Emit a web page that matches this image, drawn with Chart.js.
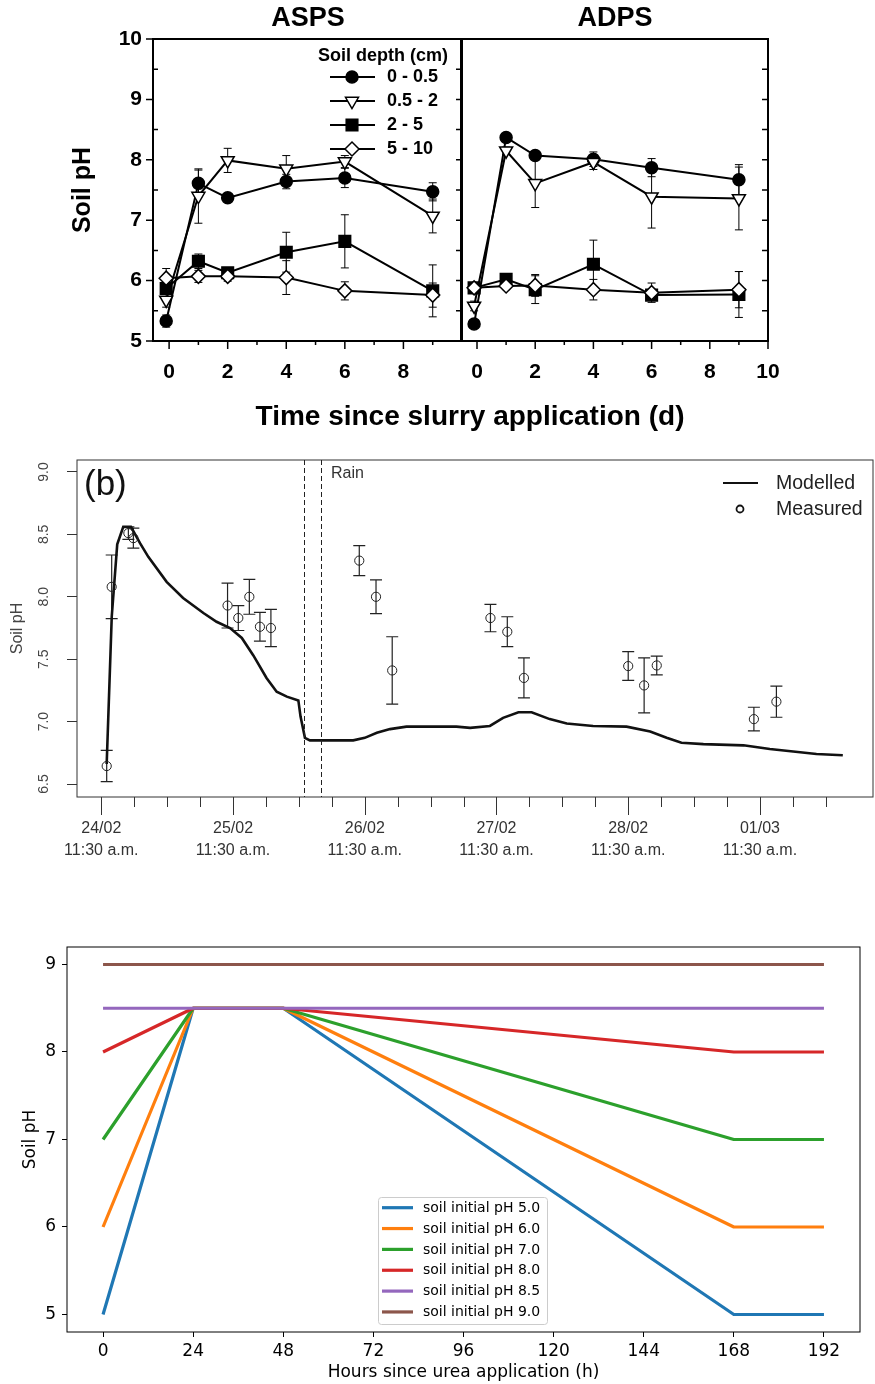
<!DOCTYPE html>
<html><head><meta charset="utf-8">
<script src="https://cdn.jsdelivr.net/npm/chart.js@4.4.1/dist/chart.umd.min.js"></script>
<style>
html,body{margin:0;padding:0;background:#fff;}
#wrap{position:relative;width:875px;height:1384px;overflow:hidden;background:#fff;}
canvas{position:absolute;}
</style>
</head><body><div id="wrap">
<canvas id="cA" width="875" height="440" style="left:0;top:0;width:875px;height:440px"></canvas>
<canvas id="cB" width="420" height="440" style="left:455px;top:0;width:420px;height:440px"></canvas>
<canvas id="cC" width="875" height="450" style="left:0;top:440px;width:875px;height:450px"></canvas>
<canvas id="cD" width="875" height="494" style="left:0;top:890px;width:875px;height:494px"></canvas>
</div>
<script>
// ---------------- DATA ----------------
// Panel (a): days since slurry application
const daysTop = [-0.1, 1, 2, 4, 6, 9];
const depthLabels = ['0 - 0.5', '0.5 - 2', '2 - 5', '5 - 10'];
const asps1 = [5.33, 7.61, 7.37, 7.64, 7.70, 7.47];
const asps1Err = [0.10, 0.22, 0.05, 0.12, 0.16, 0.15];
const asps2 = [5.68, 7.40, 7.99, 7.85, 7.97, 7.07];
const asps2Err = [0.12, 0.45, 0.20, 0.22, 0.10, 0.28];
const asps3 = [5.87, 6.32, 6.13, 6.47, 6.65, 5.83];
const asps3Err = [0.07, 0.12, 0.04, 0.33, 0.44, 0.43];
const asps4 = [6.04, 6.07, 6.07, 6.05, 5.83, 5.76];
const asps4Err = [0.16, 0.10, 0.08, 0.28, 0.15, 0.20];
const adps1 = [5.28, 8.37, 8.07, 8.01, 7.87, 7.67];
const adps1Err = [0.06, 0.04, 0.07, 0.12, 0.15, 0.25];
const adps2 = [5.58, 8.15, 7.61, 7.96, 7.39, 7.36];
const adps2Err = [0.08, 0.06, 0.40, 0.12, 0.52, 0.52];
const adps3 = [5.88, 6.02, 5.85, 6.27, 5.76, 5.77];
const adps3Err = [0.06, 0.07, 0.23, 0.40, 0.08, 0.38];
const adps4 = [5.88, 5.91, 5.92, 5.85, 5.80, 5.85];
const adps4Err = [0.05, 0.06, 0.18, 0.17, 0.16, 0.30];

// Panel (b): hours since 24/02 11:30 a.m.
const modelHours = [0.98, 1.9, 2.9, 4.0, 5.4, 7.05, 8.56, 11.9, 14.9, 18.6, 21.0, 23.45, 25.6, 27.7, 30.1, 31.95, 33.8, 35.9, 36.3, 37.1, 38.0, 45.9, 48.0, 50.2, 52.6, 55.6, 64.7, 67.2, 70.8, 73.2, 76.0, 78.4, 81.7, 84.8, 89.6, 95.7, 100.0, 103.0, 105.7, 109.7, 117.0, 121.8, 130.3, 135.1];
const modelPH = [6.66, 7.84, 8.42, 8.56, 8.56, 8.43, 8.32, 8.12, 7.99, 7.87, 7.80, 7.75, 7.67, 7.53, 7.35, 7.24, 7.20, 7.17, 7.04, 6.87, 6.85, 6.85, 6.87, 6.91, 6.94, 6.96, 6.96, 6.95, 6.965, 7.03, 7.075, 7.075, 7.02, 6.985, 6.965, 6.96, 6.92, 6.87, 6.83, 6.82, 6.81, 6.78, 6.74, 6.73];
const measHours = [0.98, 1.89, 4.93, 5.84, 23.0, 24.96, 26.97, 28.9, 30.9, 47.0, 50.05, 53.0, 70.9, 73.97, 77.0, 96.0, 98.9, 101.2, 118.9, 123.0];
const measPH = [6.644, 8.08, 8.51, 8.47, 7.93, 7.83, 8.00, 7.76, 7.75, 8.29, 8.00, 7.41, 7.83, 7.72, 7.35, 7.445, 7.29, 7.45, 7.02, 7.16];
const measErr = [0.125, 0.255, 0.05, 0.08, 0.18, 0.10, 0.14, 0.115, 0.15, 0.12, 0.135, 0.27, 0.11, 0.12, 0.16, 0.115, 0.22, 0.075, 0.095, 0.125];
const rainHours = [37, 40];
const dayLabels = ['24/02', '25/02', '26/02', '27/02', '28/02', '01/03'];
const timeLabel = '11:30 a.m.';
const lastTickHour = 132;

// Panel (c): hours since urea application
const ureaHours = [0, 24, 48, 168, 192];
const ph50 = [5.0, 8.5, 8.5, 5.0, 5.0];
const ph60 = [6.0, 8.5, 8.5, 6.0, 6.0];
const ph70 = [7.0, 8.5, 8.5, 7.0, 7.0];
const ph80 = [8.0, 8.5, 8.5, 8.0, 8.0];
const ph85 = [8.5, 8.5, 8.5, 8.5, 8.5];
const ph90 = [9.0, 9.0, 9.0, 9.0, 9.0];
const ureaLabels = ['soil initial pH 5.0', 'soil initial pH 6.0', 'soil initial pH 7.0', 'soil initial pH 8.0', 'soil initial pH 8.5', 'soil initial pH 9.0'];

// ---------------- HELPERS ----------------
const FT = '"Liberation Sans", Arial, Helvetica, sans-serif';
const FB = '"DejaVu Sans", sans-serif';
const zeroPad = s => { s.paddingLeft = 0; s.paddingRight = 0; s.paddingTop = 0; s.paddingBottom = 0; };

function framePlugin(lw, color) {
  return { id: 'frame', afterDraw(chart) {
    const {ctx, chartArea: a} = chart;
    ctx.save(); ctx.lineWidth = lw; ctx.strokeStyle = color;
    ctx.strokeRect(a.left, a.top, a.right - a.left, a.bottom - a.top);
    ctx.restore();
  }};
}
function errPlugin(color, width, cap) {
  return { id: 'errbars', beforeDatasetsDraw(chart) {
    const {ctx, scales: {x, y}} = chart;
    ctx.save(); ctx.strokeStyle = color; ctx.lineWidth = width;
    chart.data.datasets.forEach(ds => {
      if (!ds.err) return;
      ds.data.forEach((p, j) => {
        const e = ds.err[j]; if (!e) return;
        const px = x.getPixelForValue(p.x);
        const y1 = y.getPixelForValue(p.y - e), y2 = y.getPixelForValue(p.y + e);
        ctx.beginPath();
        ctx.moveTo(px, y1); ctx.lineTo(px, y2);
        ctx.moveTo(px - cap, y1); ctx.lineTo(px + cap, y1);
        ctx.moveTo(px - cap, y2); ctx.lineTo(px + cap, y2);
        ctx.stroke();
      });
    });
    ctx.restore();
  }};
}
function textPlugin(items) {
  return { id: 'texts', afterDraw(chart) {
    const ctx = chart.ctx;
    items.forEach(t => {
      ctx.save(); ctx.font = t.font; ctx.fillStyle = t.color || '#000';
      ctx.textAlign = t.align || 'center'; ctx.textBaseline = 'middle';
      ctx.translate(t.x, t.y); if (t.rot) ctx.rotate(t.rot);
      ctx.fillText(t.text, 0, 0); ctx.restore();
    });
  }};
}
function topTicks(isLeftLabelled, lastX) {
  return { id: 'topticks', afterDraw(chart) {
    const {ctx, chartArea: a, scales: {x, y}} = chart;
    ctx.save(); ctx.strokeStyle = '#000'; ctx.lineWidth = 1.5; ctx.beginPath();
    y.ticks.forEach(t => {
      const py = y.getPixelForValue(t.value);
      const major = Math.abs(t.value - Math.round(t.value)) < 1e-6;
      if (isLeftLabelled) {
        if (major) { ctx.moveTo(a.left - 7, py); ctx.lineTo(a.left, py); }
        else { ctx.moveTo(a.left, py); ctx.lineTo(a.left + 5, py); }
      }
      ctx.moveTo(a.right, py); ctx.lineTo(a.right - 6, py);
    });
    x.ticks.forEach(t => {
      if (t.value > lastX) return;
      const px = x.getPixelForValue(t.value);
      const len = (Math.round(t.value) % 2 === 0) ? 8 : 4;
      ctx.moveTo(px, a.bottom); ctx.lineTo(px, a.bottom + len);
    });
    ctx.stroke(); ctx.restore();
  }};
}
const markers = [
  {style: 'circle', rot: 0, r: 6, fill: '#000'},
  {style: 'triangle', rot: 180, r: 7.5, fill: '#fff'},
  {style: 'rect', rot: 0, r: 8.2, fill: '#000'},
  {style: 'rectRot', rot: 0, r: 7, fill: '#fff'}
];
function topDatasets(vals, errs) {
  return vals.map((v, i) => ({
    label: depthLabels[i],
    data: daysTop.map((d, j) => ({x: d, y: v[j]})),
    err: errs[i],
    borderColor: '#000', borderWidth: 2, tension: 0,
    pointStyle: markers[i].style, pointRotation: markers[i].rot, pointRadius: markers[i].r,
    pointBackgroundColor: markers[i].fill, pointBorderColor: '#000', pointBorderWidth: 1.5,
    order: 3 - i
  }));
}
function topScales(yWidth, xMaxLabel) {
  return {
    x: { type: 'linear', min: -0.55, max: 10,
      afterFit(s) { s.height = 99; zeroPad(s); },
      grid: {display: false, drawTicks: false}, border: {display: false},
      ticks: { stepSize: 1, includeBounds: false, autoSkip: false, maxRotation: 0, padding: 21, color: '#000',
        font: {family: FT, size: 21, weight: 'bold', lineHeight: 1},
        callback: v => (v % 2 === 0 && v <= xMaxLabel) ? String(v) : '' } },
    y: { type: 'linear', min: 5, max: 10, display: yWidth > 0,
      afterFit(s) { s.width = yWidth; zeroPad(s); },
      grid: {display: false, drawTicks: false}, border: {display: false},
      title: {display: true, text: 'Soil pH', color: '#000', font: {family: FT, size: 25, weight: 'bold', lineHeight: 1.2}, padding: {top: 68, bottom: 0}},
      ticks: { stepSize: 0.5, autoSkip: false, padding: 11, color: '#000',
        font: {family: FT, size: 21, weight: 'bold'},
        callback: v => Number.isInteger(v) ? String(v) : '' } }
  };
}
const legendTop = { id: 'legendTop', afterDraw(chart) {
  const ctx = chart.ctx;
  ctx.save();
  ctx.font = 'bold 18px ' + FT; ctx.fillStyle = '#000'; ctx.textBaseline = 'middle'; ctx.textAlign = 'left';
  ctx.fillText('Soil depth (cm)', 318, 56);
  const ys = [77, 101, 125, 149];
  chart.data.datasets.forEach((ds, i) => {
    const yy = ys[i];
    ctx.strokeStyle = '#000'; ctx.lineWidth = 2;
    ctx.beginPath(); ctx.moveTo(330, yy); ctx.lineTo(375, yy); ctx.stroke();
    ctx.fillStyle = ds.pointBackgroundColor; ctx.lineWidth = 1.5;
    Chart.helpers.drawPoint(ctx, {pointStyle: ds.pointStyle, rotation: ds.pointRotation, radius: ds.pointRadius, borderWidth: 1.5}, 352, yy);
    ctx.fillStyle = '#000';
    ctx.fillText(ds.label, 387, yy);
  });
  ctx.restore();
}};

const baseOpts = {responsive: false, animation: false, devicePixelRatio: 1,
  plugins: {legend: {display: false}, tooltip: {enabled: false}}};

// ---------------- CHART A: ASPS ----------------
new Chart(document.getElementById('cA'), {
  type: 'line',
  data: { datasets: topDatasets([asps1, asps2, asps3, asps4], [asps1Err, asps2Err, asps3Err, asps4Err]) },
  options: Object.assign({}, baseOpts, {
    layout: {autoPadding: false, padding: {left: 0, top: 39, right: 413, bottom: 0}},
    scales: topScales(153, 8)
  }),
  plugins: [errPlugin('#000', 1, 4), framePlugin(2, '#000'), topTicks(true, 9), legendTop,
    textPlugin([
      {text: 'ASPS', x: 308, y: 19, font: 'bold 27px ' + FT},
      {text: 'Time since slurry application (d)', x: 470, y: 417, font: 'bold 28px ' + FT}
    ])]
});

// ---------------- CHART B: ADPS ----------------
new Chart(document.getElementById('cB'), {
  type: 'line',
  data: { datasets: topDatasets([adps1, adps2, adps3, adps4], [adps1Err, adps2Err, adps3Err, adps4Err]) },
  options: Object.assign({}, baseOpts, {
    layout: {autoPadding: false, padding: {left: 6, top: 39, right: 107, bottom: 0}},
    scales: topScales(0, 10)
  }),
  plugins: [errPlugin('#000', 1, 4), framePlugin(2, '#000'), topTicks(false, 10),
    textPlugin([{text: 'ADPS', x: 160, y: 19, font: 'bold 27px ' + FT}])]
});

// ---------------- CHART C: panel (b) ----------------
const midTicks = { id: 'midTicks', afterDraw(chart) {
  const {ctx, chartArea: a, scales: {x}} = chart;
  ctx.save(); ctx.strokeStyle = '#333'; ctx.lineWidth = 1; ctx.beginPath();
  x.ticks.forEach(t => {
    const px = Math.round(x.getPixelForValue(t.value)) + 0.5;
    const len = (t.value % 24 === 0) ? 18 : 10;
    ctx.moveTo(px, a.bottom); ctx.lineTo(px, a.bottom + len);
  });
  ctx.stroke();
  // rain dashed lines
  ctx.setLineDash([5, 3]); ctx.strokeStyle = '#222'; ctx.beginPath();
  rainHours.forEach(h => { const px = Math.round(x.getPixelForValue(h)) + 0.5; ctx.moveTo(px, a.top); ctx.lineTo(px, a.bottom); });
  ctx.stroke(); ctx.setLineDash([]);
  // legend
  ctx.strokeStyle = '#111'; ctx.lineWidth = 2.2;
  ctx.beginPath(); ctx.moveTo(723, 43); ctx.lineTo(758, 43); ctx.stroke();
  ctx.lineWidth = 1.8; ctx.beginPath(); ctx.arc(740, 69, 3.5, 0, Math.PI * 2); ctx.stroke();
  ctx.font = '19.5px ' + FT; ctx.fillStyle = '#222'; ctx.textAlign = 'left'; ctx.textBaseline = 'middle';
  ctx.fillText('Modelled', 776, 44); ctx.fillText('Measured', 776, 70);
  ctx.font = '35px ' + FT; ctx.fillStyle = '#111'; ctx.fillText('(b)', 84, 45);
  ctx.font = '16px ' + FT; ctx.fillStyle = '#333'; ctx.fillText('Rain', 331, 34);
  ctx.restore();
}};
new Chart(document.getElementById('cC'), {
  type: 'line',
  data: { datasets: [
    { label: 'Modelled', data: modelHours.map((h, i) => ({x: h, y: modelPH[i]})), borderColor: '#111', borderWidth: 2.6, pointRadius: 0, tension: 0, order: 1 },
    { label: 'Measured', data: measHours.map((h, i) => ({x: h, y: measPH[i]})), err: measErr, showLine: false,
      pointStyle: 'circle', pointRadius: 4.6, pointBorderWidth: 1, pointBorderColor: '#222', pointBackgroundColor: 'rgba(0,0,0,0)', order: 0 }
  ]},
  options: Object.assign({}, baseOpts, {
    layout: {autoPadding: false, padding: {left: 0, top: 20, right: 2, bottom: 0}},
    scales: {
      x: { type: 'linear', min: -4.43, max: 140.6,
        afterFit(s) { s.height = 93; zeroPad(s); },
        afterBuildTicks(s) { s.ticks = s.ticks.filter(t => t.value <= lastTickHour); },
        grid: {display: false, drawTicks: false}, border: {display: false},
        ticks: { stepSize: 6, includeBounds: false, autoSkip: false, maxRotation: 0, minRotation: 0, padding: 21, color: '#333',
          font: {family: FT, size: 16, lineHeight: 1.375},
          callback: v => (v % 24 === 0) ? [dayLabels[v / 24], timeLabel] : '' } },
      y: { type: 'linear', min: 6.396, max: 9.096,
        afterFit(s) { s.width = 77; zeroPad(s); },
        grid: {display: true, drawOnChartArea: false, drawTicks: true, tickLength: 10, color: '#333', lineWidth: 1},
        border: {display: false},
        title: {display: true, text: 'Soil pH', color: '#444', font: {family: FT, size: 16, lineHeight: 1.2}, padding: {top: 8, bottom: 0}},
        ticks: { stepSize: 0.5, includeBounds: false, autoSkip: false, minRotation: 90, maxRotation: 90, crossAlign: 'center', padding: 13, color: '#444',
          font: {family: FT, size: 14},
          callback: v => v.toFixed(1) } }
    }
  }),
  plugins: [errPlugin('#222', 1.2, 6), framePlugin(1, '#333'), midTicks]
});

// ---------------- CHART D: urea ----------------
const tab10 = ['#1f77b4', '#ff7f0e', '#2ca02c', '#d62728', '#9467bd', '#8c564b'];
const ureaSeries = [ph50, ph60, ph70, ph80, ph85, ph90];
const legendBottom = { id: 'legendBottom', afterDraw(chart) {
  const ctx = chart.ctx;
  ctx.save();
  ctx.fillStyle = 'rgba(255,255,255,0.8)'; ctx.strokeStyle = '#cccccc'; ctx.lineWidth = 1;
  const bx = 378.5, by = 307.5, bw = 169, bh = 127, r = 3;
  ctx.beginPath();
  ctx.moveTo(bx + r, by); ctx.lineTo(bx + bw - r, by); ctx.arcTo(bx + bw, by, bx + bw, by + r, r);
  ctx.lineTo(bx + bw, by + bh - r); ctx.arcTo(bx + bw, by + bh, bx + bw - r, by + bh, r);
  ctx.lineTo(bx + r, by + bh); ctx.arcTo(bx, by + bh, bx, by + bh - r, r);
  ctx.lineTo(bx, by + r); ctx.arcTo(bx, by, bx + r, by, r); ctx.closePath();
  ctx.fill(); ctx.stroke();
  ctx.font = '14px ' + FB; ctx.textAlign = 'left'; ctx.textBaseline = 'middle';
  chart.data.datasets.forEach((ds, i) => {
    const yy = 317.7 + i * 20.85;
    ctx.strokeStyle = ds.borderColor; ctx.lineWidth = 3.2;
    ctx.beginPath(); ctx.moveTo(382, yy); ctx.lineTo(413, yy); ctx.stroke();
    ctx.fillStyle = '#000'; ctx.fillText(ds.label, 423, yy + 0.5);
  });
  ctx.restore();
}};
new Chart(document.getElementById('cD'), {
  type: 'line',
  data: { datasets: ureaSeries.map((s, i) => ({
    label: ureaLabels[i], data: ureaHours.map((h, j) => ({x: h, y: s[j]})),
    borderColor: tab10[i], borderWidth: 3.2, pointRadius: 0, tension: 0, order: 5 - i,
    borderCapStyle: 'butt', borderJoinStyle: 'round'
  }))},
  options: Object.assign({}, baseOpts, {
    layout: {autoPadding: false, padding: {left: 0, top: 57, right: 15, bottom: 0}},
    scales: {
      x: { type: 'linear', min: -9.6, max: 201.6,
        afterFit(s) { s.height = 52; zeroPad(s); },
        grid: {display: true, drawOnChartArea: false, drawTicks: true, tickLength: 5, color: '#000', lineWidth: 1},
        border: {display: false},
        title: {display: true, text: 'Hours since urea application (h)', color: '#000', font: {family: FB, size: 17, lineHeight: 1.2}, padding: {top: 0, bottom: 1}},
        ticks: { stepSize: 24, includeBounds: false, autoSkip: false, maxRotation: 0, padding: 4, color: '#000',
          font: {family: FB, size: 17, lineHeight: 1.2} } },
      y: { type: 'linear', min: 4.8, max: 9.2,
        afterFit(s) { s.width = 67; zeroPad(s); },
        grid: {display: true, drawOnChartArea: false, drawTicks: true, tickLength: 5, color: '#000', lineWidth: 1},
        border: {display: false},
        title: {display: true, text: 'Soil pH', color: '#000', font: {family: FB, size: 17, lineHeight: 1.2}, padding: {top: 20, bottom: 0}},
        ticks: { stepSize: 1, includeBounds: false, autoSkip: false, padding: 6, color: '#000',
          font: {family: FB, size: 17} } }
    }
  }),
  plugins: [framePlugin(1, '#000'), legendBottom]
});
</script>
</body></html>
